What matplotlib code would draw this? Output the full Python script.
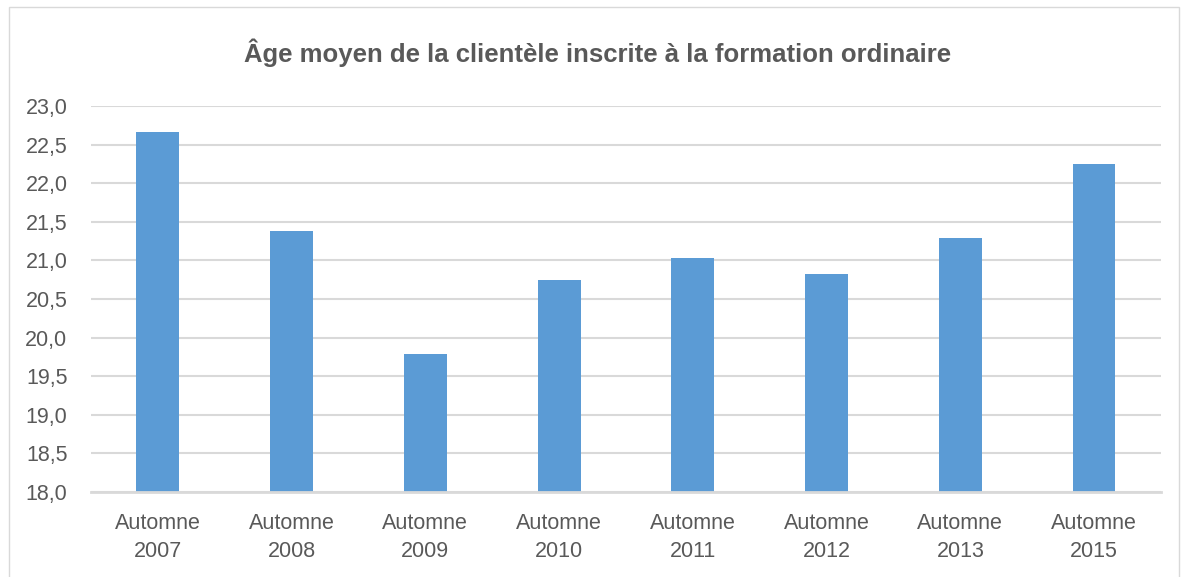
import matplotlib.pyplot as plt
from matplotlib.patches import Rectangle

categories = ["Automne\n2007", "Automne\n2008", "Automne\n2009", "Automne\n2010",
              "Automne\n2011", "Automne\n2012", "Automne\n2013", "Automne\n2015"]
ages = [22.66, 21.38, 19.79, 20.74, 21.03, 20.83, 21.29, 22.25]
yticks = [18.0, 18.5, 19.0, 19.5, 20.0, 20.5, 21.0, 21.5, 22.0, 22.5, 23.0]

plt.rcParams['font.family'] = ['Liberation Sans', 'DejaVu Sans']
text_col = "#595959"
grid_col = "#D9D9D9"

fig = plt.figure(figsize=(11.85, 5.77), dpi=100)
ax = fig.add_axes([0.0768, 0.1473, 0.9029, 0.669])

x = list(range(len(categories)))
ax.bar(x, ages, width=0.32, bottom=0, color="#5B9BD5", zorder=3)
ax.set_ylim(18.0, 23.0)
ax.set_xlim(-0.5, len(categories) - 0.5)

ax.set_yticks(yticks)
ax.set_yticklabels([f"{v:.1f}".replace(".", ",") for v in yticks])
ax.set_xticks(x)
ax.set_xticklabels(categories, linespacing=1.45)
ax.tick_params(axis="both", length=0, labelsize=15.5, colors=text_col)
ax.tick_params(axis="y", pad=17)
ax.tick_params(axis="x", pad=15)

ax.grid(axis="y", color=grid_col, linewidth=1.5, zorder=0)
for side in ["top", "right", "left"]:
    ax.spines[side].set_visible(False)
ax.spines["bottom"].set_color(grid_col)
ax.spines["bottom"].set_linewidth(2)
ax.spines["bottom"].set_zorder(4)

fig.text(0.504, 0.908, "Âge moyen de la clientèle inscrite à la formation ordinaire",
         ha="center", va="center", fontsize=18.5, fontweight="bold", color=text_col)

# chart border
fig.patches.append(Rectangle((9 / 1185, -0.01), 1170 / 1185, 1 - 7 / 577 + 0.01,
                             transform=fig.transFigure, fill=False,
                             edgecolor="#D9D9D9", linewidth=1))

fig.savefig("out.png", dpi=100)
